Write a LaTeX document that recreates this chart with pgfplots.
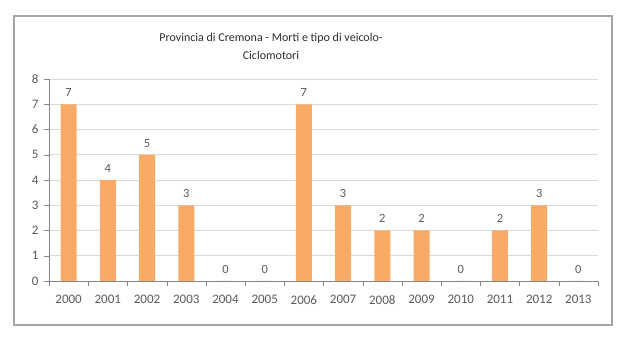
\documentclass[border=0pt]{standalone}
\usepackage{pgfplots}
\pgfplotsset{compat=1.18}
\usepackage{fontspec}
\setmainfont{Carlito}
\definecolor{barc}{RGB}{248,170,102}
\definecolor{txt}{RGB}{89,89,89}
\definecolor{ttl}{RGB}{45,45,45}
\definecolor{gridc}{RGB}{217,217,217}
\definecolor{axc}{RGB}{134,134,134}
\definecolor{frm}{RGB}{165,165,165}
\begin{document}
\begin{tikzpicture}[x=1pt,y=1pt]
\path[use as bounding box] (0,0) rectangle (630,340);
\draw[frm, line width=1.2pt] (14,15) rectangle (612,324);
\node[align=center, font=\fontsize{12}{18}\selectfont, text=ttl] at (271,294) {Provincia di Cremona - Morti e tipo di veicolo-\\Ciclomotori};
\begin{axis}[
  at={(49pt,59pt)}, anchor=south west, scale only axis,
  width=549pt, height=202pt,
  ymin=0, ymax=8, xmin=-0.5, xmax=13.5,
  ybar, bar width=16pt,
  axis x line*=bottom, axis y line*=left,
  axis line style={axc},
  ytick={0,...,8},
  xtick={0,...,13},
  xticklabels={2000,2001,2002,2003,2004,2005,2006,2007,2008,2009,2010,2011,2012,2013},
  minor xtick={-0.5,0.5,...,13.5},
  major x tick style={draw=none},
  minor x tick style={axc},
  y tick style={axc},
  tick align=outside,
  major tick length=5pt, minor tick length=5pt,
  ymajorgrids, grid style={gridc, line width=0.8pt},
  tick label style={font=\fontsize{13}{15}\selectfont, text=txt},
  /pgf/number format/assume math mode=true,
  nodes near coords,
  nodes near coords style={font=\fontsize{12.5}{14}\selectfont, text=txt, yshift=4pt},
  xticklabel style={yshift=-6pt},
  yticklabel style={xshift=-2pt},
]
\addplot[fill=barc, draw=none] coordinates {
(0,7) (1,4) (2,5) (3,3) (4,0) (5,0) (6,7) (7,3) (8,2) (9,2) (10,0) (11,2) (12,3) (13,0)};
\end{axis}
\end{tikzpicture}
\end{document}
